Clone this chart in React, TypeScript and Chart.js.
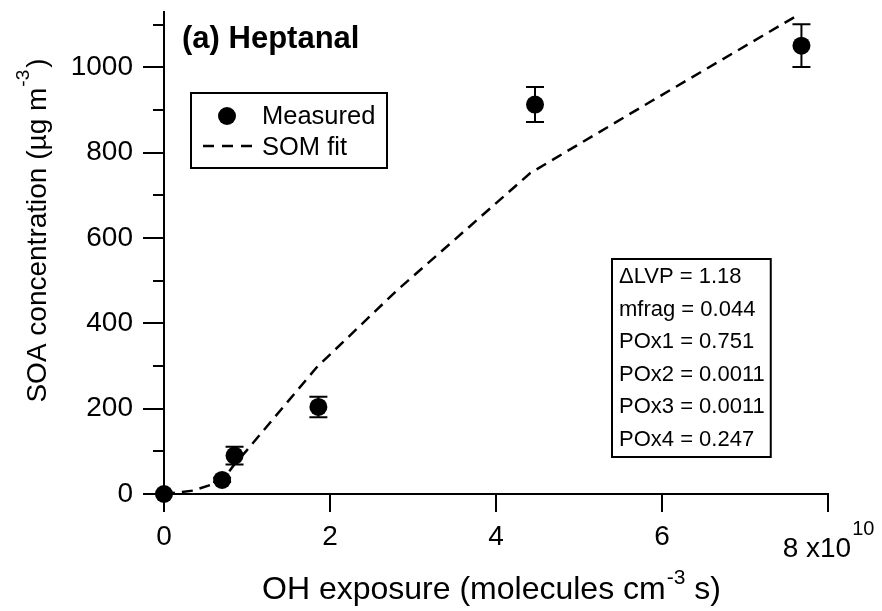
import React, { useEffect, useRef } from "react";
import { Chart, registerables } from "chart.js";

Chart.register(...registerables);

// ---- data ----
const MEAS_X = [0, 0.70, 0.85, 1.86, 4.47, 7.68];
const MEAS_Y = [0, 33, 90, 204, 913, 1051];
const MEAS_ERR = [0, 5, 21, 24, 41, 50];

const FIT_X = [0, 0.35, 0.70, 0.85, 1.0, 1.84, 2.81, 3.81, 4.41, 5.89, 7.63];
const FIT_Y = [0, 8, 30, 70, 103, 297, 478, 649, 752, 923, 1122];

const X_TICKS = [0, 2, 4, 6, 8];
const Y_TICKS = [0, 200, 400, 600, 800, 1000];
const Y_MINOR = [100, 300, 500, 700, 900, 1100];

const INFO_LINES = [
  "\u0394LVP = 1.18",
  "mfrag = 0.044",
  "POx1 = 0.751",
  "POx2 = 0.0011",
  "POx3 = 0.0011",
  "POx4 = 0.247",
];

const FONT = "'Liberation Sans', Arial, Helvetica, sans-serif";

const overlay = {
  id: "overlay",
  afterDatasetsDraw(chart: any) {
    const ctx = chart.ctx;
    const xs = chart.scales.x;
    const ys = chart.scales.y;
    ctx.save();
    ctx.strokeStyle = "#000";
    ctx.lineWidth = 2;
    // error bars
    MEAS_X.forEach((v: number, i: number) => {
      const e = MEAS_ERR[i];
      if (!e) return;
      const px = xs.getPixelForValue(v);
      const y1 = ys.getPixelForValue(MEAS_Y[i] - e);
      const y2 = ys.getPixelForValue(MEAS_Y[i] + e);
      ctx.beginPath();
      ctx.moveTo(px, y1);
      ctx.lineTo(px, y2);
      ctx.moveTo(px - 9, y1);
      ctx.lineTo(px + 9, y1);
      ctx.moveTo(px - 9, y2);
      ctx.lineTo(px + 9, y2);
      ctx.stroke();
    });
    ctx.restore();
  },
  afterDraw(chart: any) {
    const ctx = chart.ctx;
    const xs = chart.scales.x;
    const ys = chart.scales.y;
    const area = chart.chartArea;
    ctx.save();
    ctx.strokeStyle = "#000";
    ctx.fillStyle = "#000";
    ctx.lineWidth = 2;
    // tick marks
    ctx.beginPath();
    Y_TICKS.forEach((v) => {
      const py = Math.round(ys.getPixelForValue(v));
      ctx.moveTo(area.left - 21, py);
      ctx.lineTo(area.left, py);
    });
    Y_MINOR.forEach((v) => {
      const py = Math.round(ys.getPixelForValue(v));
      ctx.moveTo(area.left - 11, py);
      ctx.lineTo(area.left, py);
    });
    X_TICKS.forEach((v) => {
      const px = Math.round(xs.getPixelForValue(v));
      ctx.moveTo(px, area.bottom);
      ctx.lineTo(px, area.bottom + 18);
    });
    ctx.stroke();

    // "8 x10^10" label at last tick
    const p8 = xs.getPixelForValue(8);
    ctx.font = `28px ${FONT}`;
    const mainTxt = "8 x10";
    const wMain = ctx.measureText(mainTxt).width;
    ctx.font = `20px ${FONT}`;
    const wSup = ctx.measureText("10").width;
    const start8 = p8 - (wMain + wSup) / 2;
    ctx.textBaseline = "alphabetic";
    ctx.textAlign = "left";
    ctx.font = `28px ${FONT}`;
    ctx.fillText(mainTxt, start8, 557);
    ctx.font = `20px ${FONT}`;
    ctx.fillText("10", start8 + wMain + 1, 535);

    // x title
    let x0 = 262;
    const xb = 599;
    ctx.font = `32px ${FONT}`;
    const t1 = "OH exposure (molecules cm";
    ctx.fillText(t1, x0, xb);
    x0 += ctx.measureText(t1).width + 1;
    ctx.font = `21px ${FONT}`;
    ctx.fillText("-3", x0, xb - 15);
    x0 += ctx.measureText("-3").width;
    ctx.font = `32px ${FONT}`;
    ctx.fillText(" s)", x0, xb);

    // y title (rotated)
    ctx.save();
    ctx.translate(38, 232);
    ctx.rotate(-Math.PI / 2);
    ctx.font = `28px ${FONT}`;
    const y1 = "SOA concentration (\u00b5g m";
    const w1 = ctx.measureText(y1).width;
    const w3 = ctx.measureText(")").width;
    ctx.font = `19px ${FONT}`;
    const w2 = ctx.measureText("-3").width;
    let yy = -(w1 + w2 + w3) / 2;
    ctx.textBaseline = "middle";
    ctx.font = `28px ${FONT}`;
    ctx.fillText(y1, yy, 0);
    yy += w1 + 1;
    ctx.font = `19px ${FONT}`;
    ctx.fillText("-3", yy, -14);
    yy += w2 + 2;
    ctx.font = `28px ${FONT}`;
    ctx.fillText(")", yy, 0);
    ctx.restore();

    // panel title
    ctx.textBaseline = "alphabetic";
    ctx.font = `bold 31px ${FONT}`;
    ctx.fillText("(a) Heptanal", 182, 48);

    // legend box
    ctx.lineWidth = 2;
    ctx.strokeRect(191, 93, 196, 75);
    ctx.beginPath();
    ctx.arc(227, 116, 9, 0, Math.PI * 2);
    ctx.fill();
    ctx.font = `25.5px ${FONT}`;
    ctx.fillText("Measured", 262, 124);
    ctx.fillText("SOM fit", 262, 155);
    ctx.save();
    ctx.lineWidth = 2.5;
    ctx.setLineDash([11, 8]);
    ctx.beginPath();
    ctx.moveTo(203, 146);
    ctx.lineTo(253, 146);
    ctx.stroke();
    ctx.restore();

    // info box
    ctx.lineWidth = 2;
    ctx.font = `22px ${FONT}`;
    let maxW = 0;
    INFO_LINES.forEach((s) => {
      maxW = Math.max(maxW, ctx.measureText(s).width);
    });
    ctx.strokeRect(612, 259, maxW + 13, 198);
    INFO_LINES.forEach((s, i) => {
      ctx.fillText(s, 619, 283 + i * 32.5);
    });
    ctx.restore();
  },
};

export default function App() {
  const ref = useRef<HTMLCanvasElement | null>(null);
  useEffect(() => {
    document.body.style.margin = "0";
    const canvas = ref.current!;
    const chart = new Chart(canvas, {
      type: "scatter",
      data: {
        datasets: [
          {
            label: "Measured",
            data: MEAS_X.map((x, i) => ({ x, y: MEAS_Y[i] })),
            backgroundColor: "#000",
            borderColor: "#000",
            pointRadius: 9,
            pointBorderWidth: 0,
            clip: false,
            order: 1,
          } as any,
          {
            label: "SOM fit",
            type: "line",
            data: FIT_X.map((x, i) => ({ x, y: FIT_Y[i] })),
            borderColor: "#000",
            borderWidth: 2.5,
            borderDash: [11, 7],
            pointRadius: 0,
            fill: false,
            tension: 0,
            clip: false,
            order: 2,
          } as any,
        ],
      },
      options: {
        responsive: false,
        animation: false,
        devicePixelRatio: 1,
        layout: { padding: { top: 12, right: 54, left: 0, bottom: 0 } },
        plugins: { legend: { display: false }, tooltip: { enabled: false } },
        scales: {
          x: {
            type: "linear",
            min: 0,
            max: 8,
            afterBuildTicks: (s: any) => {
              s.ticks = X_TICKS.map((v) => ({ value: v }));
            },
            afterFit: (s: any) => {
              s.height = 117;
              s.paddingLeft = 0;
              s.paddingRight = 0;
              s.paddingTop = 0;
              s.paddingBottom = 0;
            },
            grid: { display: false, drawTicks: false },
            border: { display: true, color: "#000", width: 2 },
            ticks: {
              font: { family: FONT, size: 28 },
              color: "#000",
              padding: 26,
              maxRotation: 0,
              autoSkip: false,
              callback: (v: any) => (v === 8 ? "" : String(v)),
            },
          },
          y: {
            type: "linear",
            min: 0,
            max: 1130,
            afterBuildTicks: (s: any) => {
              s.ticks = Y_TICKS.map((v) => ({ value: v }));
            },
            afterFit: (s: any) => {
              s.width = 164;
              s.paddingLeft = 0;
              s.paddingRight = 0;
              s.paddingTop = 0;
              s.paddingBottom = 0;
            },
            grid: { display: false, drawTicks: false },
            border: { display: true, color: "#000", width: 2 },
            ticks: {
              font: { family: FONT, size: 28 },
              color: "#000",
              padding: 31,
              autoSkip: false,
              callback: (v: any) => String(v),
            },
          },
        },
      },
      plugins: [overlay],
    });
    return () => chart.destroy();
  }, []);
  return (
    <div style={{ position: "fixed", left: 0, top: 0, width: 882, height: 611, background: "#fff" }}>
      <canvas ref={ref} width={882} height={611} style={{ width: 882, height: 611, display: "block" }} />
    </div>
  );
}
